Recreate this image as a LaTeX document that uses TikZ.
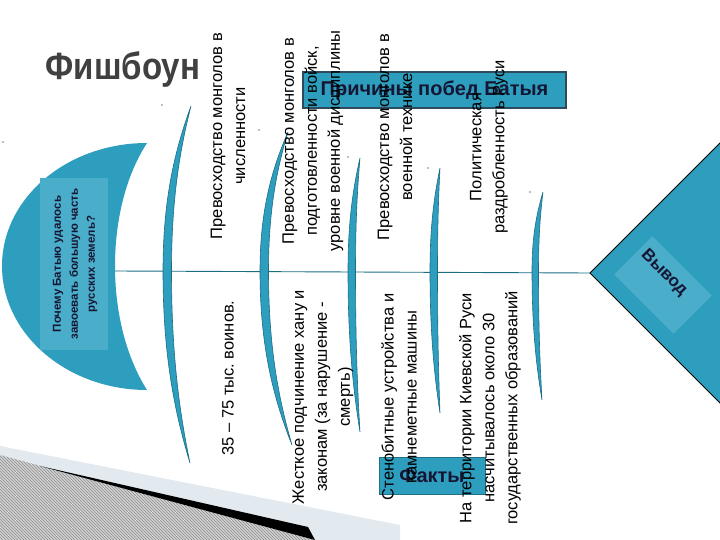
\documentclass[tikz,border=0pt]{standalone}
\usepackage{fontspec}
\setmainfont{Liberation Sans}
\usetikzlibrary{patterns}
\definecolor{fishteal}{RGB}{46,158,190}
\definecolor{lightteal}{RGB}{74,173,202}
\definecolor{boneedge}{RGB}{28,108,132}
\definecolor{boxedge}{RGB}{45,75,92}
\definecolor{inknavy}{RGB}{22,22,52}
\definecolor{titlegray}{RGB}{64,64,64}
\definecolor{paleband}{RGB}{226,233,239}
\tikzset{
  cause/.style={rotate=90, align=center, inner sep=0pt, font=\fontsize{16.5}{23}\selectfont},
  bone/.style={fill=fishteal, draw=boneedge, line width=0.6pt},
  headbox/.style={fill=fishteal, draw=boxedge, line width=1.2pt, inner sep=0pt},
  spine/.style={draw=boneedge, line width=0.9pt}
}
\begin{document}
\begin{tikzpicture}[x=1pt,y=-1pt]
\useasboundingbox (0,0) rectangle (720,540);
% page shadow
\fill[paleband] (0,446) -- (400,525) -- (400,540) -- (0,540) -- cycle;
\fill[gray!35] (0,455) -- (315,540) -- (0,540) -- cycle;
\fill[pattern=north west lines, pattern color=gray!90] (0,455) -- (315,540) -- (0,540) -- cycle;
\fill[black] (40,466) -- (308,527) -- (315,540) -- cycle;
% title
\node[anchor=base, text=titlegray, font=\fontsize{38}{40}\selectfont\bfseries] (title) at (123,80) {\scalebox{0.87}[1]{Фишбоун}};
% head
\fill[fishteal] (147,143) .. controls (67,143) and (2,198) .. (2,266)
  .. controls (2,334) and (67,390) .. (147,390)
  .. controls (125,355) and (115,310) .. (115,266)
  .. controls (115,222) and (125,177) .. (147,143) -- cycle;
\coordinate (head) at (115,271);
\fill[lightteal] (40,178) rectangle (108,350);
\node[rotate=90, align=center, inner sep=0pt, text=inknavy, font=\fontsize{11.5}{17}\selectfont\bfseries] (question) at (75,264)
  {Почему Батыю удалось\\завоевать большую часть\\русских земель?};
% tail
\coordinate (tail) at (590,273);
\fill[fishteal] (tail) -- (725,138) -- (725,408) -- cycle;
\draw[black, line width=1pt] (722,141) -- (tail) -- (722,405);
\fill[lightteal, rotate around={-45:(663,285)}] (621,258) rectangle (705,312);
\node[rotate=-45, inner sep=0pt, text=inknavy, font=\fontsize{17}{20}\selectfont\bfseries] (conclusion) at (664,273) {Вывод};
% spine
\draw[spine] (head) -- (tail);
% bones
\foreach \xt/\yt/\xm/\xb/\yb/\w in {191/106/163/190/463/8.5, 288/132/260/292/445/8.5, 360/158/348/360/432/7.5, 440/168/430/440/413/7.5, 543/192/532/542/400/6.5}{
  \filldraw[bone] (\xt,\yt)
    .. controls ({\xm+0.35*(\xt-\xm)},{\yt+0.3*(271-\yt)}) and (\xm,{271-0.4*(271-\yt)}) .. (\xm,271)
    .. controls (\xm,{271+0.4*(\yb-271)}) and ({\xm+0.35*(\xb-\xm)},{\yb-0.3*(\yb-271)}) .. (\xb,\yb)
    .. controls ({\xm+\w+0.35*(\xb-\xm-\w)},{\yb-0.3*(\yb-271)}) and ({\xm+\w},{271+0.4*(\yb-271)}) .. ({\xm+\w},271)
    .. controls ({\xm+\w},{271-0.4*(271-\yt)}) and ({\xm+\w+0.35*(\xt-\xm-\w)},{\yt+0.3*(271-\yt)}) .. (\xt,\yt) -- cycle;
}
% stray dots
\foreach \dx/\dy in {3/142, 162/105, 259/130, 348/157, 428/168, 530/192}
  \fill[gray] (\dx,\dy) circle (0.9pt);
% heading boxes
\node[headbox, minimum width=263pt, minimum height=36pt] (causes) at (434.5,90) {};
\node[inner sep=0pt, text=inknavy, font=\fontsize{20}{24}\selectfont\bfseries] at (causes) {Причины побед Батыя};
\node[headbox, draw=fishteal!70!black, line width=0.6pt, minimum width=106pt, minimum height=37pt] (facts) at (432,475.5) {};
\node[inner sep=0pt, text=inknavy, font=\fontsize{20}{24}\selectfont\bfseries] at (facts) {Факты};
% causes
\node[cause] (numbers) at (228,136) {Превосходство монголов в\\численности};
\node[cause] (training) at (313,141) {Превосходство монголов в\\подготовленности войск,\\уровне военной дисциплины};
\node[cause] (machines) at (395,137) {Превосходство монголов в\\военной технике};
\node[cause] (division) at (489,147) {Политическая\\раздробленность Руси};
% facts
\node[cause] (army) at (228,378) {35 – 75 тыс.\ воинов.};
\node[cause] (discipline) at (323,397) {Жесткое подчинение хану и\\законам (за нарушение -\\смерть)};
\node[cause] (siege) at (399,397) {Стенобитные устройства и\\камнеметные машины};
\node[cause] (states) at (490,408) {На территории Киевской Руси\\насчитывалось около 30\\государственных образований};
\end{tikzpicture}
\end{document}
